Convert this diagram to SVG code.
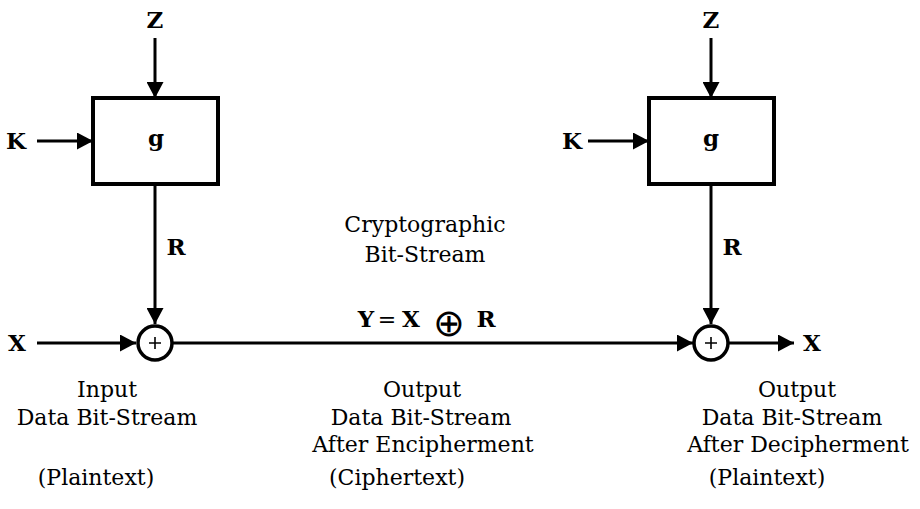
<svg xmlns="http://www.w3.org/2000/svg" width="920" height="509" viewBox="0 0 920 509">
<defs>
<marker id="ah" markerUnits="userSpaceOnUse" markerWidth="17" markerHeight="17" refX="16" refY="8.5" orient="auto">
<path d="M0,0 L16,8.5 L0,17 Z" fill="#000"/>
</marker>
</defs>
<style>
.t{font-family:"DejaVu Serif","Liberation Serif",serif;font-size:22px;fill:#000;text-anchor:middle}
.b{font-family:"DejaVu Serif","Liberation Serif",serif;font-size:23px;font-weight:bold;fill:#000;text-anchor:middle}
.op{font-family:"DejaVu Sans","Liberation Sans",sans-serif;font-size:38px;font-weight:200;fill:#000;text-anchor:middle}
.box{fill:#fff;stroke:#000;stroke-width:4}
.xor{fill:#fff;stroke:#000;stroke-width:3.5}
.plus{stroke:#000;stroke-width:1.6;fill:none}
.arr{stroke:#000;stroke-width:3;fill:none;marker-end:url(#ah)}
</style>
<rect width="920" height="509" fill="#fff"/>
<g id="connectors">
<line class="arr" x1="155" y1="38" x2="155" y2="98"/>
<line class="arr" x1="37" y1="141" x2="93" y2="141"/>
<line class="arr" x1="155" y1="184" x2="155" y2="324"/>
<line class="arr" x1="37" y1="343" x2="136" y2="343"/>
<line class="arr" x1="173" y1="343" x2="693" y2="343"/>
<line class="arr" x1="711" y1="38" x2="711" y2="98"/>
<line class="arr" x1="588" y1="141" x2="649" y2="141"/>
<line class="arr" x1="711" y1="184" x2="711" y2="324"/>
<line class="arr" x1="729" y1="343" x2="794" y2="343"/>
</g>
<g id="g1">
<rect class="box" x="93" y="98" width="125" height="86"/>
<text class="b" x="156" y="146">g</text>
</g>
<g id="g2">
<rect class="box" x="649" y="98" width="125" height="86"/>
<text class="b" x="711" y="146">g</text>
</g>
<g id="xor1">
<circle class="xor" cx="155" cy="343" r="17"/>
<path class="plus" d="M149,343 H161 M155,337 V349"/>
</g>
<g id="xor2">
<circle class="xor" cx="711" cy="343" r="17"/>
<path class="plus" d="M705,343 H717 M711,337 V349"/>
</g>
<g id="labels">
<text class="b" x="155" y="28">Z</text>
<text class="b" x="711" y="28">Z</text>
<text class="b" x="16" y="149">K</text>
<text class="b" x="572" y="149">K</text>
<text class="b" x="176" y="255">R</text>
<text class="b" x="732" y="255">R</text>
<text class="b" x="17" y="351">X</text>
<text class="b" x="812" y="351">X</text>
<text class="t" x="425" y="232">Cryptographic</text>
<text class="t" x="425" y="262">Bit-Stream</text>
<text class="b" x="366" y="327">Y</text>
<text class="t" x="387" y="327">=</text>
<text class="b" x="411" y="327">X</text>
<text class="op" x="449" y="336">⊕</text>
<text class="b" x="486" y="327">R</text>
<text class="t" x="107" y="397">Input</text>
<text class="t" x="107" y="425">Data Bit-Stream</text>
<text class="t" x="96" y="485">(Plaintext)</text>
<text class="t" x="422" y="397">Output</text>
<text class="t" x="421" y="425">Data Bit-Stream</text>
<text class="t" x="423" y="452">After Encipherment</text>
<text class="t" x="397" y="485">(Ciphertext)</text>
<text class="t" x="797" y="397">Output</text>
<text class="t" x="792" y="425">Data Bit-Stream</text>
<text class="t" x="798" y="452">After Decipherment</text>
<text class="t" x="767" y="485">(Plaintext)</text>
</g>
</svg>
